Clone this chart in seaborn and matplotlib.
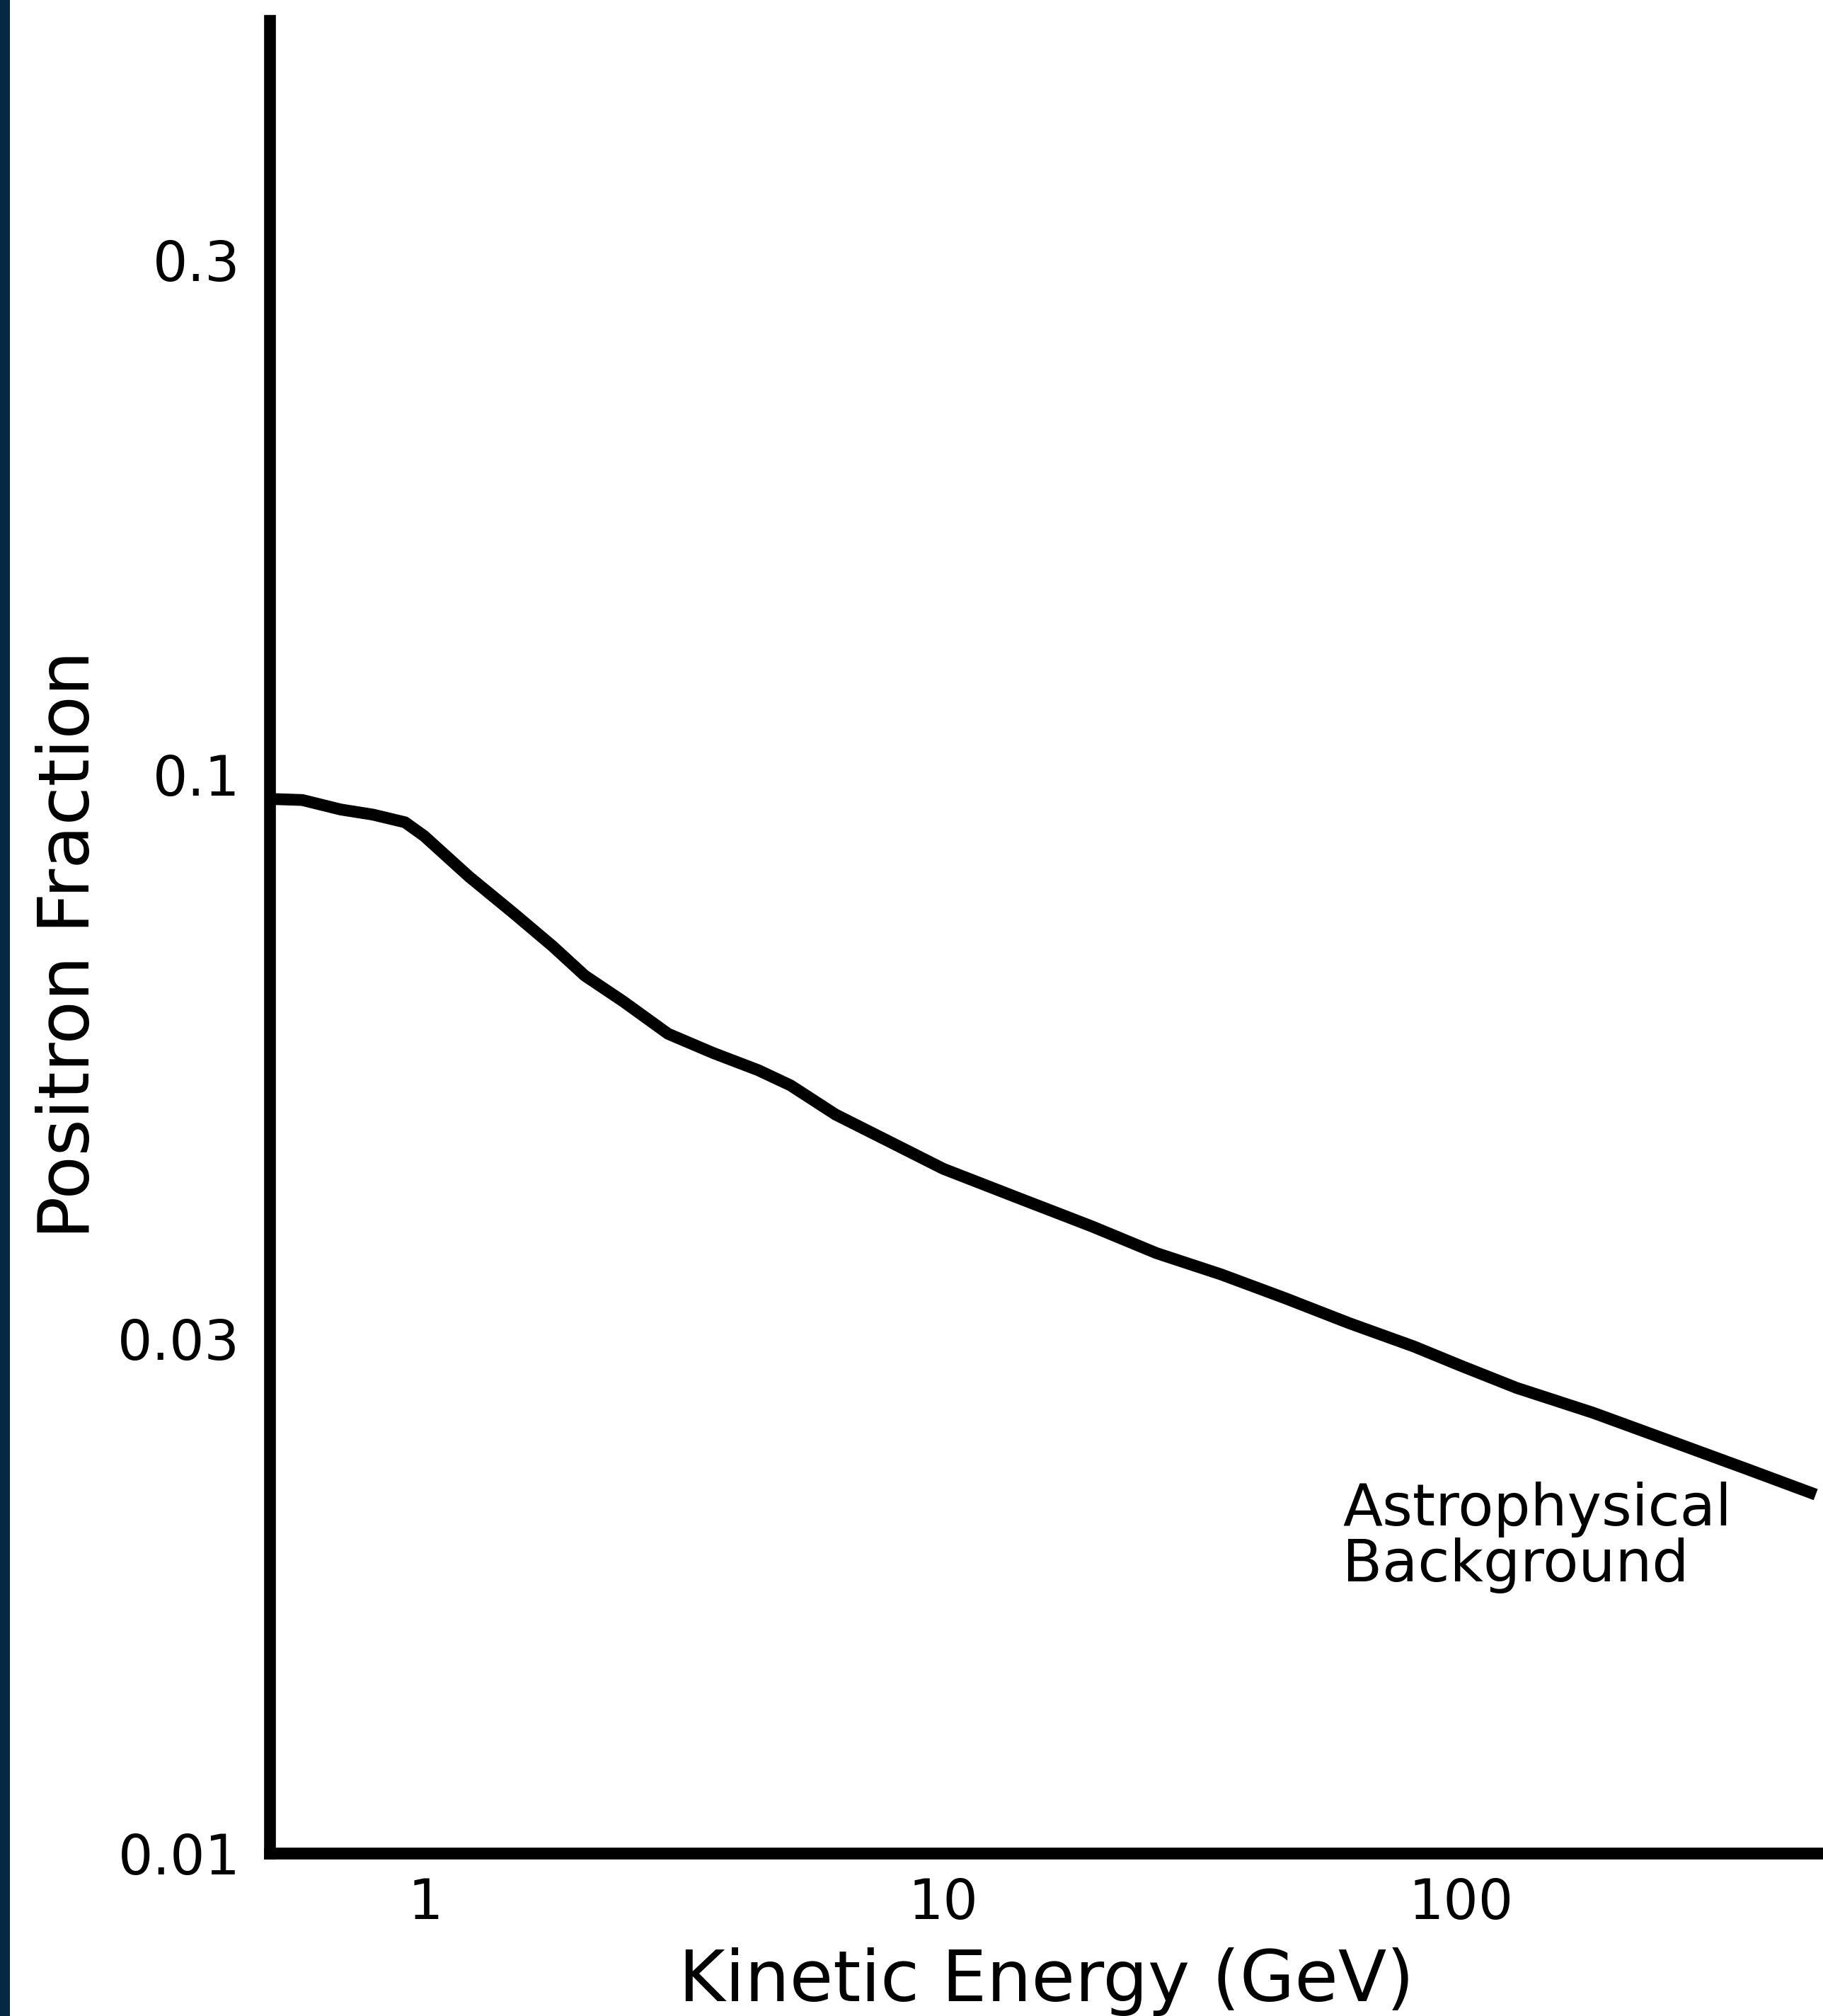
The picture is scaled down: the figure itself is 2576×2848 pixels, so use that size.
import numpy as np
import pandas as pd
import matplotlib
matplotlib.use("Agg")
import matplotlib.pyplot as plt
import seaborn as sns
from matplotlib.patches import Rectangle
from matplotlib.ticker import FixedLocator, FixedFormatter, NullLocator

# ---- data ----
energy = [0.507, 0.578, 0.686, 0.791, 0.913, 0.994, 1.214, 1.483, 1.761, 2.03,
          2.41, 2.94, 3.59, 4.39, 5.07, 6.19, 7.78, 10.0, 13.77, 19.4,
          25.8, 34.4, 45.7, 60.8, 81.0, 100.0, 128.0, 180.0, 254.0, 357.0, 484.0]
fraction = [0.0949, 0.0947, 0.0928, 0.0918, 0.0903, 0.0877, 0.0804, 0.0743, 0.0693, 0.0651,
            0.0616, 0.0575, 0.0552, 0.0532, 0.0515, 0.0484, 0.0458, 0.0431, 0.0406, 0.0381,
            0.0360, 0.0344, 0.0327, 0.0310, 0.0295, 0.0283, 0.0270, 0.0256, 0.0241, 0.0227, 0.0215]
x_ticks = [1, 10, 100]
x_tick_labels = ["1", "10", "100"]
y_ticks = [0.01, 0.03, 0.1, 0.3]
y_tick_labels = ["0.01", "0.03", "0.1", "0.3"]
x_label = "Kinetic Energy (GeV)"
y_label = "Positron Fraction"
annotation = "Astrophysical\nBackground"

df = pd.DataFrame({"energy": energy, "fraction": fraction})

sns.set_style("white")
plt.rcParams["font.family"] = ["DejaVu Sans"]
plt.rcParams["text.color"] = "black"
plt.rcParams["axes.labelcolor"] = "black"
plt.rcParams["xtick.color"] = "black"
plt.rcParams["ytick.color"] = "black"

W, H, DPI = 2576, 2848, 100
fig = plt.figure(figsize=(W / DPI, H / DPI), dpi=DPI)
fig.patch.set_facecolor("white")

# dark strip at the left edge
fig.patches.append(Rectangle((0, 0), 14 / W, 1, transform=fig.transFigure,
                             facecolor="#052940", edgecolor="none", zorder=0))

left = 381 / W
bottom = 1 - 2618 / H
top = 1 - 29 / H
ax = fig.add_axes([left, bottom, 1 - left, top - bottom])

sns.lineplot(data=df, x="energy", y="fraction", ax=ax, color="black",
             linewidth=12, solid_capstyle="butt", solid_joinstyle="round")

ax.set_xscale("log")
ax.set_yscale("log")
ax.set_xlim(0.5, 500)
ax.set_ylim(0.01, 0.5)

ax.xaxis.set_major_locator(FixedLocator(x_ticks))
ax.xaxis.set_major_formatter(FixedFormatter(x_tick_labels))
ax.xaxis.set_minor_locator(NullLocator())
ax.yaxis.set_major_locator(FixedLocator(y_ticks))
ax.yaxis.set_major_formatter(FixedFormatter(y_tick_labels))
ax.yaxis.set_minor_locator(NullLocator())

for s in ["top", "right"]:
    ax.spines[s].set_visible(False)
for s in ["left", "bottom"]:
    ax.spines[s].set_linewidth(12)
    ax.spines[s].set_color("black")
    ax.spines[s].set_capstyle("projecting")

ax.tick_params(axis="both", which="major", direction="in", length=12, width=1.2,
               labelsize=56, colors="black", labelcolor="black")
ax.tick_params(axis="y", pad=30)
ax.tick_params(axis="x", pad=24)

ax.set_xlabel(x_label, fontsize=72, color="black")
ax.set_ylabel(y_label, fontsize=72, color="black")
ax.xaxis.set_label_coords(0.5, -0.0514)
ax.yaxis.set_label_coords(-0.1066, 0.4956)

ax.text(59, 0.0221, annotation, fontsize=59, ha="left", va="top",
        linespacing=1.0, color="black")

fig.savefig("out.png", dpi=DPI, facecolor=fig.get_facecolor())
